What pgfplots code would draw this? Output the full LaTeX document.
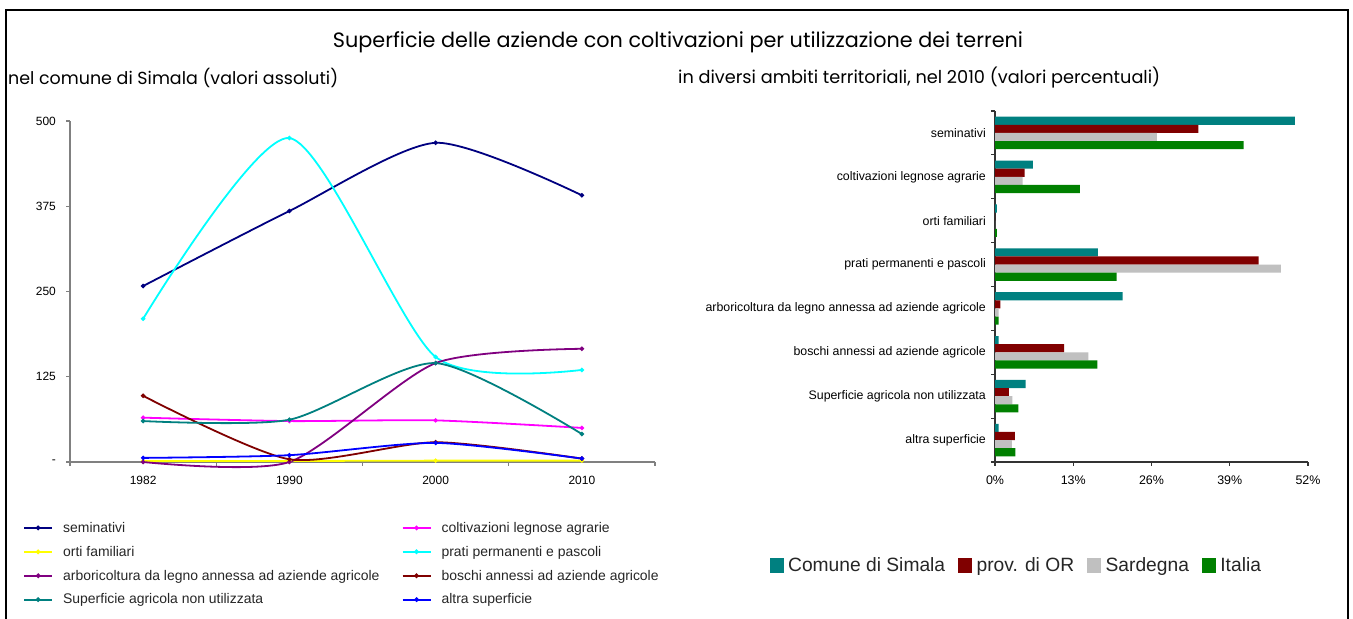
\documentclass[border=0pt]{standalone}
\usepackage{fontspec}
\setmainfont{Liberation Sans}
\newfontfamily\titlefont{Poppins}
\usepackage{pgfplots}
\pgfplotsset{compat=1.18}
\definecolor{cnavy}{HTML}{000080}
\definecolor{cmag}{HTML}{FF00FF}
\definecolor{cyel}{HTML}{FFFF00}
\definecolor{ccyan}{HTML}{00FFFF}
\definecolor{cpurp}{HTML}{800080}
\definecolor{cdred}{HTML}{800000}
\definecolor{cteal}{HTML}{008080}
\definecolor{cblue}{HTML}{0000FF}
\definecolor{cgray}{HTML}{C0C0C0}
\definecolor{cgreen}{HTML}{008000}
\begin{document}
\begin{tikzpicture}[x=1bp,y=1bp]
\useasboundingbox (0,0) rectangle (1353,619);
\fill[white] (0,0) rectangle (1353,619);
\draw[line width=2bp] (6,-5) -- (6,609) -- (1348,609) -- (1348,-5);
\node[inner sep=0pt] at (678,577) {\resizebox{690bp}{!}{\titlefont Superficie delle aziende con coltivazioni per utilizzazione dei terreni}};
\node[inner sep=0pt,anchor=west] at (8,541) {\resizebox{330bp}{!}{\titlefont nel comune di Simala (valori assoluti)}};
\node[inner sep=0pt,anchor=west] at (678,541) {\resizebox{482bp}{!}{\titlefont in diversi ambiti territoriali, nel 2010 (valori percentuali)}};

\begin{axis}[
  at={(70bp,157bp)}, anchor=south west,
  width=585bp, height=341bp, scale only axis,
  xmin=-0.5, xmax=3.5, ymin=0, ymax=500,
  axis lines=left,
  x axis line style={-}, y axis line style={-},
  axis line style={draw=black!50, line width=1.2bp},
  xtick={0,1,2,3}, xticklabels={1982,1990,2000,2010},
  minor xtick={-0.5,0.5,1.5,2.5,3.5},
  major x tick style={draw=none},
  ytick={0,125,250,375,500}, yticklabels={-,125,250,375,500},
  tick align=outside, major tick length=4bp, minor tick length=4bp,
  tick style={draw=black!50, line width=1.2bp},
  /pgf/number format/assume math mode=true,
  ticklabel style={font=\fontsize{12}{14}\selectfont, text=black},
  yticklabel style={inner sep=0pt, xshift=-10bp},
  xticklabel style={inner sep=0pt, yshift=-10bp},
  clip=false,
  every axis plot/.append style={smooth, tension=0.42, line width=1.8bp, mark=*, mark size=1.2bp},
  legend columns=2,
  legend cell align=left,
  legend image code/.code={\draw[#1, line width=2bp, mark repeat=2, mark phase=2] plot coordinates {(0bp,0bp) (14bp,0bp) (28bp,0bp)};},
  legend style={at={(-0.0855,-0.164)}, anchor=north west, draw=none, fill=none,
    font=\fontsize{14}{16}\selectfont, row sep=8.3bp,
    nodes={inner sep=2bp, text=black!85},
    /tikz/every odd column/.append style={column sep=8bp},
    /tikz/every even column/.append style={column sep=20bp}},
]
\addplot[cnavy] coordinates {(0,258) (1,368) (2,468) (3,391)};
\addlegendentry{seminativi}
\addplot[cmag] coordinates {(0,65) (1,60) (2,61) (3,50)};
\addlegendentry{coltivazioni legnose agrarie}
\addplot[cyel] coordinates {(0,1.5) (1,1.5) (2,2) (3,2)};
\addlegendentry{orti familiari}
\addplot[ccyan] coordinates {(0,210) (1,475) (2,154) (3,135)};
\addlegendentry{prati permanenti e pascoli}
\addplot[cpurp] coordinates {(0,0) (1,0) (2,145) (3,166)};
\addlegendentry{arboricoltura da legno annessa ad aziende agricole}
\addplot[cdred] coordinates {(0,97) (1,4) (2,29) (3,5)};
\addlegendentry{boschi annessi ad aziende agricole}
\addplot[cteal] coordinates {(0,60) (1,62) (2,145) (3,41)};
\addlegendentry{Superficie agricola non utilizzata}
\addplot[cblue] coordinates {(0,6) (1,10) (2,28) (3,5)};
\addlegendentry{altra superficie}
\end{axis}

\begin{axis}[
  at={(995bp,157bp)}, anchor=south west,
  width=313bp, height=351bp, scale only axis,
  xmin=0, xmax=52, ymin=-0.5, ymax=7.5,
  axis lines=left,
  x axis line style={-}, y axis line style={-},
  axis line style={draw=black!80, line width=1.2bp},
  xtick={0,13,26,39,52},
  xticklabel={\pgfmathprintnumber{\tick}\%},
  ytick={0,1,2,3,4,5,6,7},
  yticklabels={altra superficie, Superficie agricola non utilizzata, boschi annessi ad aziende agricole, arboricoltura da legno annessa ad aziende agricole, prati permanenti e pascoli, orti familiari, coltivazioni legnose agrarie, seminativi},
  minor ytick={-0.5,0.5,1.5,2.5,3.5,4.5,5.5,6.5,7.5},
  major y tick style={draw=none},
  tick align=outside, major tick length=4bp, minor tick length=4bp,
  tick style={draw=black!80, line width=1.2bp},
  /pgf/number format/assume math mode=true,
  xticklabel style={font=\fontsize{12.5}{14}\selectfont, inner sep=0pt, yshift=-10bp},
  yticklabel style={font=\fontsize{12.4}{14}\selectfont, inner sep=0pt, xshift=-5bp},
  legend columns=-1,
  legend style={at={(-0.73,-0.293)}, anchor=west, draw=none, fill=none,
    font=\fontsize{19.3}{22}\selectfont, nodes={inner sep=2bp, text=black!85},
    /tikz/every odd column/.append style={column sep=3bp},
    /tikz/every even column/.append style={column sep=11bp}},
]
\addplot[xbar, bar width=0.185, bar shift=0.2775, fill=cteal, draw=none, forget plot] coordinates {(49.8,7) (6.3,6) (0.3,5) (17.1,4) (21.2,3) (0.6,2) (5.1,1) (0.6,0)};
\addplot[xbar, bar width=0.185, bar shift=0.0925, fill=cdred, draw=none, forget plot] coordinates {(33.8,7) (4.9,6) (0,5) (43.8,4) (0.9,3) (11.5,2) (2.3,1) (3.3,0)};
\addplot[xbar, bar width=0.185, bar shift=-0.0925, fill=cgray, draw=none, forget plot] coordinates {(26.9,7) (4.6,6) (0,5) (47.5,4) (0.6,3) (15.5,2) (2.9,1) (2.8,0)};
\addplot[xbar, bar width=0.185, bar shift=-0.2775, fill=cgreen, draw=none, forget plot] coordinates {(41.3,7) (14.1,6) (0.3,5) (20.2,4) (0.6,3) (17.0,2) (3.9,1) (3.4,0)};
\addlegendimage{legend image code/.code={\fill[cteal] (0bp,-7bp) rectangle (13bp,7bp);}}
\addlegendentry{Comune di Simala}
\addlegendimage{legend image code/.code={\fill[cdred] (0bp,-7bp) rectangle (13bp,7bp);}}
\addlegendentry{prov. di OR}
\addlegendimage{legend image code/.code={\fill[cgray] (0bp,-7bp) rectangle (13bp,7bp);}}
\addlegendentry{Sardegna}
\addlegendimage{legend image code/.code={\fill[cgreen] (0bp,-7bp) rectangle (13bp,7bp);}}
\addlegendentry{Italia}
\end{axis}
\end{tikzpicture}
\end{document}
